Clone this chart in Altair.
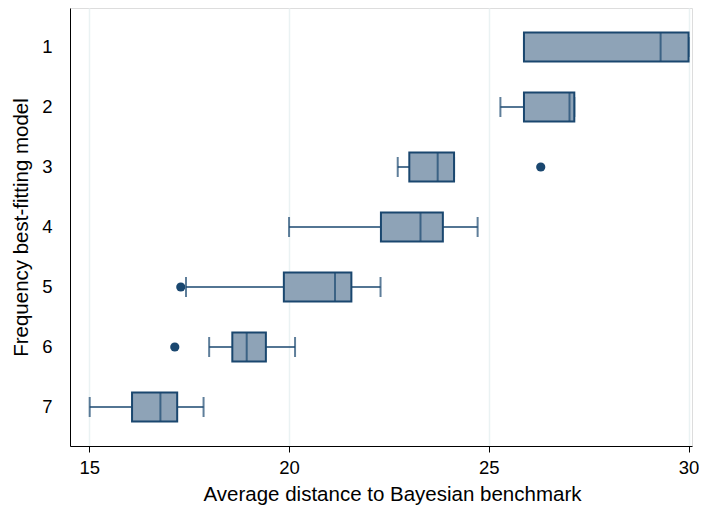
import altair as alt
import pandas as pd

models = ["1", "2", "3", "4", "5", "6", "7"]
lower = [25.88, 25.29, 22.72, 20.00, 17.42, 18.00, 15.01]
q1 = [25.88, 25.88, 23.01, 22.30, 19.87, 18.58, 16.07]
median = [29.30, 27.02, 23.72, 23.29, 21.15, 18.94, 16.78]
q3 = [30.00, 27.14, 24.13, 23.85, 21.56, 19.42, 17.20]
upper = [30.00, 27.14, 24.13, 24.72, 22.29, 20.15, 17.86]

outlier_models = ["3", "5", "6"]
outlier_values = [26.30, 17.29, 17.14]

NAVY = "#1a476f"
FILL = "#8ea3b7"

df = pd.DataFrame({"model": models, "lower": lower, "q1": q1, "median": median,
                   "q3": q3, "upper": upper})
out = pd.DataFrame({"model": outlier_models, "value": outlier_values})

xscale = alt.Scale(domain=[14.517, 30.086], nice=False, zero=False)
yscale = alt.Scale(type="band", domain=models, paddingInner=0, paddingOuter=0.15)

xaxis = alt.Axis(values=[15, 20, 25, 30], title="Average distance to Bayesian benchmark",
                 grid=True, gridColor="#eaf2f3", gridWidth=1.5,
                 domainColor="black", domainWidth=1, tickColor="black", tickSize=6,
                 labelFontSize=18.5, titleFontSize=20.5, labelPadding=6, titlePadding=8,
                 titleX=322, titleAlign="center",
                 labelFont="Liberation Sans", titleFont="Liberation Sans",
                 labelColor="black", titleColor="black", titleFontWeight="normal")
yaxis = alt.Axis(title="Frequency best-fitting model", ticks=False, grid=False,
                 domainColor="black", domainWidth=1, labelAngle=0,
                 labelFontSize=18.5, titleFontSize=20.5, labelPadding=18, titlePadding=10,
                 labelFont="Liberation Sans", titleFont="Liberation Sans",
                 labelColor="black", titleColor="black", titleFontWeight="normal")

base = alt.Chart(df)
y = alt.Y("model:N", scale=yscale, axis=yaxis)

whisk_lo = base.mark_rule(color=NAVY, strokeWidth=1.5).encode(
    x=alt.X("lower:Q", scale=xscale, axis=xaxis), x2="q1:Q", y=y)
whisk_hi = base.mark_rule(color=NAVY, strokeWidth=1.5).encode(
    x=alt.X("q3:Q", scale=xscale), x2="upper:Q", y=y)
cap_lo = base.mark_tick(color=NAVY, size=20, thickness=2, orient="vertical").encode(
    x=alt.X("lower:Q", scale=xscale), y=y)
cap_hi = base.mark_tick(color=NAVY, size=20, thickness=2, orient="vertical").encode(
    x=alt.X("upper:Q", scale=xscale), y=y)
box = base.mark_bar(size=29, fill=FILL, stroke=NAVY, strokeWidth=2).encode(
    x=alt.X("q1:Q", scale=xscale), x2="q3:Q", y=y)
med = base.mark_tick(color=NAVY, size=29, thickness=2, orient="vertical").encode(
    x=alt.X("median:Q", scale=xscale), y=y)
pts = alt.Chart(out).mark_circle(color=NAVY, opacity=1, size=85).encode(
    x=alt.X("value:Q", scale=xscale), y=alt.Y("model:N", scale=yscale))

chart = alt.layer(whisk_lo, whisk_hi, cap_lo, cap_hi, box, med, pts).properties(
    width=622, height=438,
    autosize=alt.AutoSizeParams(type="none"),
    padding={"left": 62, "top": 0, "right": 7, "bottom": 60},
).configure_view(stroke=None).configure(background="white")

chart.save("out.html", embed_options={"renderer": "svg", "actions": False})
